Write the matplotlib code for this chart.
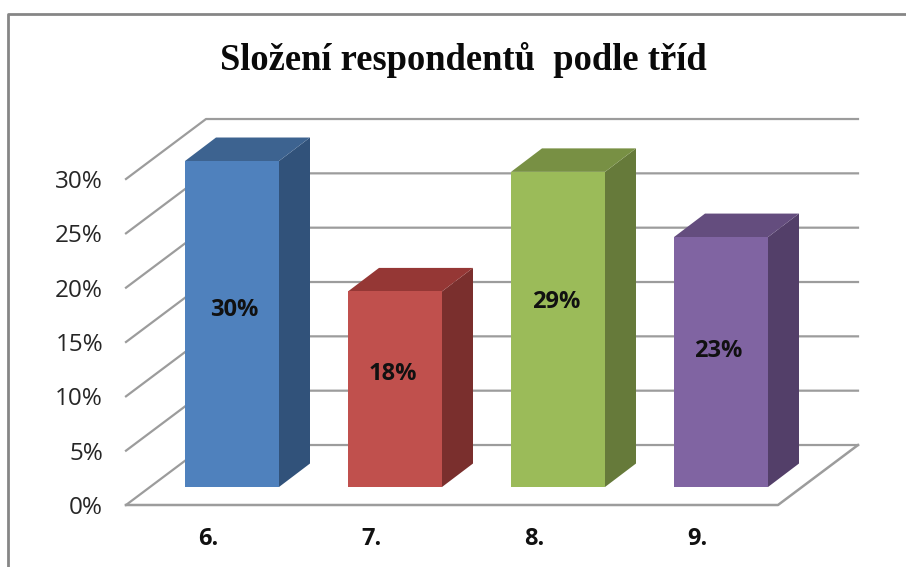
import matplotlib
matplotlib.use("Agg")
import matplotlib.pyplot as plt
from matplotlib.lines import Line2D

# Data
grades = ["6.", "7.", "8.", "9."]
shares = [30, 18, 29, 23]
y_ticks = [0, 5, 10, 15, 20, 25, 30]

front_colors = ["#4F81BD", "#C0504D", "#9BBB59", "#8064A2"]
top_colors = ["#3D6390", "#953735", "#789044", "#644D7E"]
side_colors = ["#31527A", "#7A2F2D", "#667A3A", "#533F69"]

W, H = 906, 567
PX_X = 163.0    # pixels per category
PX_Y = 10.87    # pixels per percent
FIRST_PX = 232  # centre of first bar

fig = plt.figure(figsize=(W / 100, H / 100), dpi=100, facecolor="white")
ax = fig.add_axes([126 / W, (H - 505) / H, (778 - 126) / W, (505 - 179) / H])
ax.set_xlim((126 - FIRST_PX) / PX_X, (778 - FIRST_PX) / PX_X)
ax.set_ylim(0, 326 / PX_Y)
ax.patch.set_visible(False)
for s in ax.spines.values():
    s.set_visible(False)

font = ["Open Sans", "DejaVu Sans"]
grid_color = "#9C9C9C"

# chart depth of the walls and of the bars, in data units
wall_dx, wall_dy = 80 / PX_X, 60 / PX_Y
bar_dx, bar_dy = 31 / PX_X, 23.5 / PX_Y
floor = 18 / PX_Y
bar_w = 94 / PX_X
x_left, x_right = ax.get_xlim()

# back wall gridlines with the slanted piece on the left wall
for t in y_ticks:
    ax.plot([x_left, x_left + wall_dx, x_right + wall_dx],
            [t, t + wall_dy, t + wall_dy],
            color=grid_color, lw=1.6, clip_on=False, zorder=1)

# floor
ax.plot([x_left, x_right, x_right + wall_dx],
        [0, 0, wall_dy], color=grid_color, lw=1.8, clip_on=False, zorder=1)

label_shift = [1.3, 1.4, 2.5, 1.0]
label_nudge = [2, -2, -2, -3]  # pixels
for i, v in enumerate(shares):
    x0 = i - bar_w / 2
    x1 = i + bar_w / 2
    y1 = floor + v
    ax.fill([x1, x1 + bar_dx, x1 + bar_dx, x1],
            [floor, floor + bar_dy, y1 + bar_dy, y1],
            color=side_colors[i], lw=0, clip_on=False, zorder=3)
    ax.fill([x0, x1, x1 + bar_dx, x0 + bar_dx],
            [y1, y1, y1 + bar_dy, y1 + bar_dy],
            color=top_colors[i], lw=0, clip_on=False, zorder=3)
    ax.bar(i, v, width=bar_w, bottom=floor, color=front_colors[i],
           clip_on=False, zorder=4)
    ax.text(i + label_nudge[i] / PX_X, floor + v / 2 + label_shift[i], f"{v}%",
            ha="center", va="center", fontsize=17, fontweight="bold",
            family=font, color="#111111", zorder=5)

ax.set_yticks(y_ticks)
ax.set_yticklabels([f"{t}%" for t in y_ticks], fontsize=17.5, family=font,
                   color="#262626")
ax.set_xticks([i - 24 / PX_X for i in range(len(grades))])
ax.set_xticklabels(grades, fontsize=17, fontweight="bold", family=font,
                   color="#111111")
ax.tick_params(axis="y", length=0, pad=16.5)
ax.tick_params(axis="x", length=0, pad=16)

fig.text(463 / W, 1 - 60 / H, "Složení respondentů  podle tříd", ha="center",
         va="center", fontsize=26.3, fontweight="bold",
         family="Liberation Serif", color="#0a0a0a")

# outer chart frame, only top and left are inside the crop
fig.add_artist(Line2D([7.5 / W, 7.5 / W, 1], [0, 1 - 14 / H, 1 - 14 / H],
                      color="#868686", lw=2))

fig.savefig("out.png", dpi=100)
